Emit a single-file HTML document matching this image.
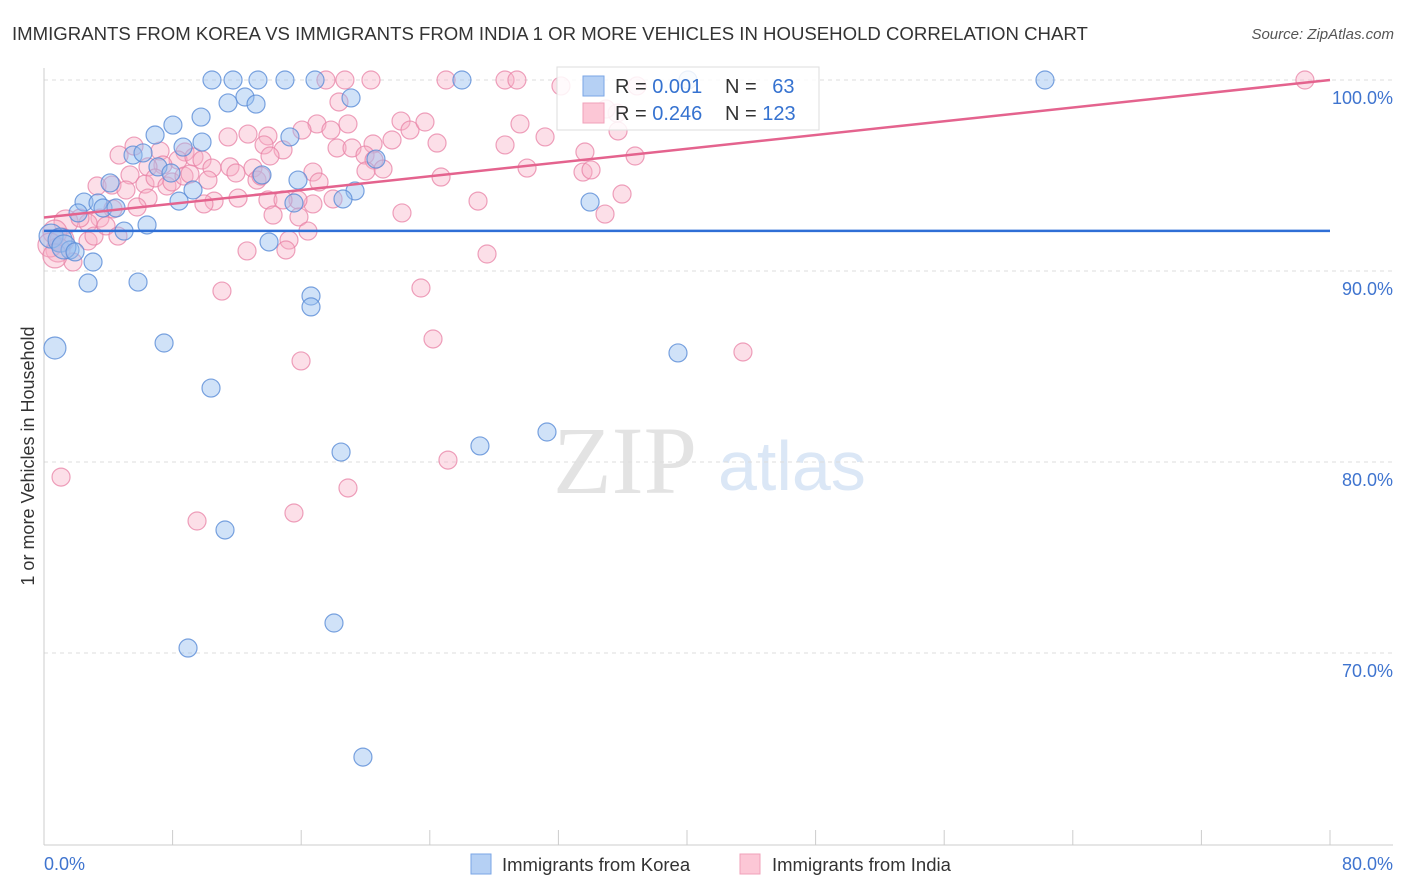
<!DOCTYPE html>
<html><head><meta charset="utf-8">
<style>
body{margin:0;background:#fff;font-family:"Liberation Sans",sans-serif;}
#wrap{position:relative;width:1406px;height:892px;overflow:hidden;}
</style></head>
<body><div id="wrap">
<svg id="chart" width="1406" height="892" xmlns="http://www.w3.org/2000/svg">
<text x="12" y="40" font-size="18.6" fill="#333">IMMIGRANTS FROM KOREA VS IMMIGRANTS FROM INDIA 1 OR MORE VEHICLES IN HOUSEHOLD CORRELATION CHART</text>
<text x="1394" y="39" font-size="15" fill="#555" font-style="italic" text-anchor="end">Source: ZipAtlas.com</text>
<g>
<text x="553" y="493" font-size="96" fill="#e3e3e3" font-family="Liberation Serif,serif">ZIP</text>
<text x="718" y="490" font-size="70" fill="#dbe7f6">atlas</text>
</g>
<g id="grid"></g>
<g id="axes"></g>
<g id="pts"></g>
<g id="trend"></g>
<g>
<rect x="557" y="67" width="262" height="63" fill="#fff" fill-opacity="0.85" stroke="#ddd"/>
<rect x="583" y="76" width="21" height="20" fill="#b5d0f4" stroke="#7aa6e6"/>
<rect x="583" y="103" width="21" height="20" fill="#fcc7d6" stroke="#f0a0ba"/>
<text x="615" y="93" font-size="20" fill="#333">R = <tspan fill="#3572d0">0.001</tspan></text>
<text x="725" y="93" font-size="20" fill="#333">N = <tspan fill="#3572d0" dx="10">63</tspan></text>
<text x="615" y="120" font-size="20" fill="#333">R = <tspan fill="#3572d0">0.246</tspan></text>
<text x="725" y="120" font-size="20" fill="#333">N = <tspan fill="#3572d0">123</tspan></text>
</g>
<g>
<rect x="471" y="854" width="20" height="20" fill="#b5d0f4" stroke="#7aa6e6"/>
<text x="502" y="871" font-size="18.5" fill="#333">Immigrants from Korea</text>
<rect x="740" y="854" width="20" height="20" fill="#fcc7d6" stroke="#f0a0ba"/>
<text x="772" y="871" font-size="18.5" fill="#333">Immigrants from India</text>
</g>
<text transform="translate(34,456) rotate(-90)" font-size="18" fill="#333" text-anchor="middle">1 or more Vehicles in Household</text>
</svg>
</div>
<script>
const xTickVals=[8,16,24,32,40,48,56,64,72,80];
const yTickVals=[100,90,80,70];
const yTickLabels=["100.0%","90.0%","80.0%","70.0%"];
const xEndLabels=["0.0%","80.0%"];
const koreaX=[10.45,11.76,13.31,14.99,16.86,26.0,40.06,62.27,12.5,19.1,11.45,13.19,9.77,8.02,6.91,15.3,9.83,8.65,5.54,6.16,7.09,7.9,13.56,15.8,4.11,9.27,20.65,19.35,18.6,8.4,15.55,2.49,3.36,3.67,4.48,33.97,6.41,4.98,2.12,14.0,0.44,1.0,1.62,3.05,2.74,5.85,16.61,16.61,0.68,7.47,39.44,10.39,31.29,27.12,18.48,11.26,18.04,8.96,19.84,1.24,1.93];
const koreaY=[100,100,100,100,100,100,100,100,99.11,99.06,98.8,98.74,98.06,97.64,97.12,97.02,96.75,96.49,96.07,96.18,95.45,95.13,95.03,94.76,94.61,94.24,95.86,94.19,93.77,93.66,93.56,93.61,93.56,93.3,93.3,93.61,92.41,92.09,93.04,91.52,91.83,91.62,91.1,90.47,89.37,89.42,88.69,88.12,85.97,86.23,85.71,83.87,81.57,80.84,80.52,76.44,71.57,70.26,64.55,91.26,91.0];
const indiaX=[17.54,18.72,20.34,25.01,28.68,29.42,32.16,78.44,18.35,22.21,22.77,23.7,16.98,17.85,18.91,20.47,21.65,24.45,29.61,31.17,35.65,36.89,34.96,35.71,11.45,12.69,13.93,16.05,13.69,14.87,14.06,18.23,19.16,19.97,20.53,21.09,20.03,16.73,17.11,17.98,16.73,15.8,28.68,30.05,24.7,27.0,22.27,33.65,33.53,34.03,35.96,34.9,36.77,4.67,5.6,7.22,8.77,8.34,9.33,9.83,7.4,6.47,10.45,11.57,11.94,13.0,13.25,13.5,12.07,13.93,14.87,14.25,15.86,16.42,15.24,15.05,12.63,11.07,15.99,23.45,24.2,43.48,27.56,25.13,18.91,15.55,9.52,1.06,3.3,4.23,5.35,5.1,6.28,6.91,7.65,7.96,8.71,9.08,10.2,10.58,9.95,6.47,5.79,4.29,3.48,2.74,1.37,2.24,0.68,1.12,1.8,0.87,2.74,3.11,3.86,4.6,0.37,0.68];
const indiaY=[100,100,100,100,100,100,99.69,100,98.85,97.85,97.38,97.8,97.7,97.38,97.7,96.65,96.86,96.7,97.7,97.02,98.27,99.69,98.48,97.33,97.02,97.17,97.07,97.38,96.6,96.34,96.02,96.44,96.44,96.07,95.81,95.34,95.24,95.18,94.66,93.77,93.51,93.72,96.6,95.39,94.92,93.66,93.04,96.23,95.18,95.29,94.03,92.98,96.02,96.07,96.54,96.28,96.23,95.81,95.97,95.81,95.55,95.45,95.39,95.45,95.13,95.39,94.76,94.97,93.82,93.72,93.72,92.93,92.83,92.09,91.62,91.1,91.05,88.95,85.29,89.11,86.44,85.76,90.89,80.1,78.64,77.33,76.91,79.21,94.45,94.5,95.03,94.24,94.55,94.87,94.45,94.66,94.97,95.08,94.76,93.66,93.51,93.82,93.35,93.25,92.77,92.51,92.57,92.77,92.04,91.62,90.47,91.1,91.57,91.83,92.36,91.83,91.36,90.79];
const koreaTrend=[92.1,92.1];
const indiaTrend=[92.8,100.0];
const trendX=[0,80];

const NS="http://www.w3.org/2000/svg";
const sx=v=>44+v*1286/80;
const sy=v=>80+(100-v)*19.1;
function mk(tag,attrs,parent){const e=document.createElementNS(NS,tag);for(const k in attrs)e.setAttribute(k,attrs[k]);parent.appendChild(e);return e;}
const grid=document.getElementById('grid'),axes=document.getElementById('axes'),pts=document.getElementById('pts'),trend=document.getElementById('trend');
yTickVals.forEach((v,i)=>{
  const l=mk('line',{x1:44,x2:1393,y1:sy(v),y2:sy(v),stroke:'#dcdcdc','stroke-dasharray':'4,4'},grid);
  
  
  const t=mk('text',{x:1393,y:sy(v)+24,'font-size':18,fill:'#3f74cf','text-anchor':'end'},grid);
  t.textContent=yTickLabels[i];
  
  
});
const xa=mk('line',{x1:44,x2:1393,y1:845,y2:845,stroke:'#ccc'},axes);


const ya=mk('line',{x1:44,x2:44,y1:68,y2:845,stroke:'#ccc'},axes);


xTickVals.forEach(v=>{
  const t=mk('line',{x1:sx(v),x2:sx(v),y1:830,y2:845,stroke:'#ccc'},axes);
  
  
});
const xl0=mk('text',{x:44,y:870,'font-size':18,fill:'#3f74cf'},axes);
xl0.textContent=xEndLabels[0];


const xl1=mk('text',{x:1393,y:870,'font-size':18,fill:'#3f74cf','text-anchor':'end'},axes);
xl1.textContent=xEndLabels[1];


function drawPts(X,Y,fill,stroke,name){
  X.forEach((x,i)=>{
    let r=9; if(x<1.5&&Y[i]>90&&Y[i]<93)r=12; if(x<1.5&&Y[i]<88&&Y[i]>84)r=11;
    const c=mk('circle',{cx:sx(x),cy:sy(Y[i]),r:r,fill:fill,stroke:stroke,'stroke-width':1.2},pts);
    
    
  });
}
drawPts(indiaX,indiaY,'rgba(248,175,198,0.4)','rgba(232,130,165,0.75)','india-point');
drawPts(koreaX,koreaY,'rgba(150,190,240,0.45)','rgba(90,140,215,0.8)','korea-point');
const kt=mk('line',{x1:sx(trendX[0]),x2:sx(trendX[1]),y1:sy(koreaTrend[0]),y2:sy(koreaTrend[1]),stroke:'#2f6fd6','stroke-width':2.5},trend);


const it=mk('line',{x1:sx(trendX[0]),x2:sx(trendX[1]),y1:sy(indiaTrend[0]),y2:sy(indiaTrend[1]),stroke:'#e4638e','stroke-width':2.5},trend);


</script>
</body></html>
